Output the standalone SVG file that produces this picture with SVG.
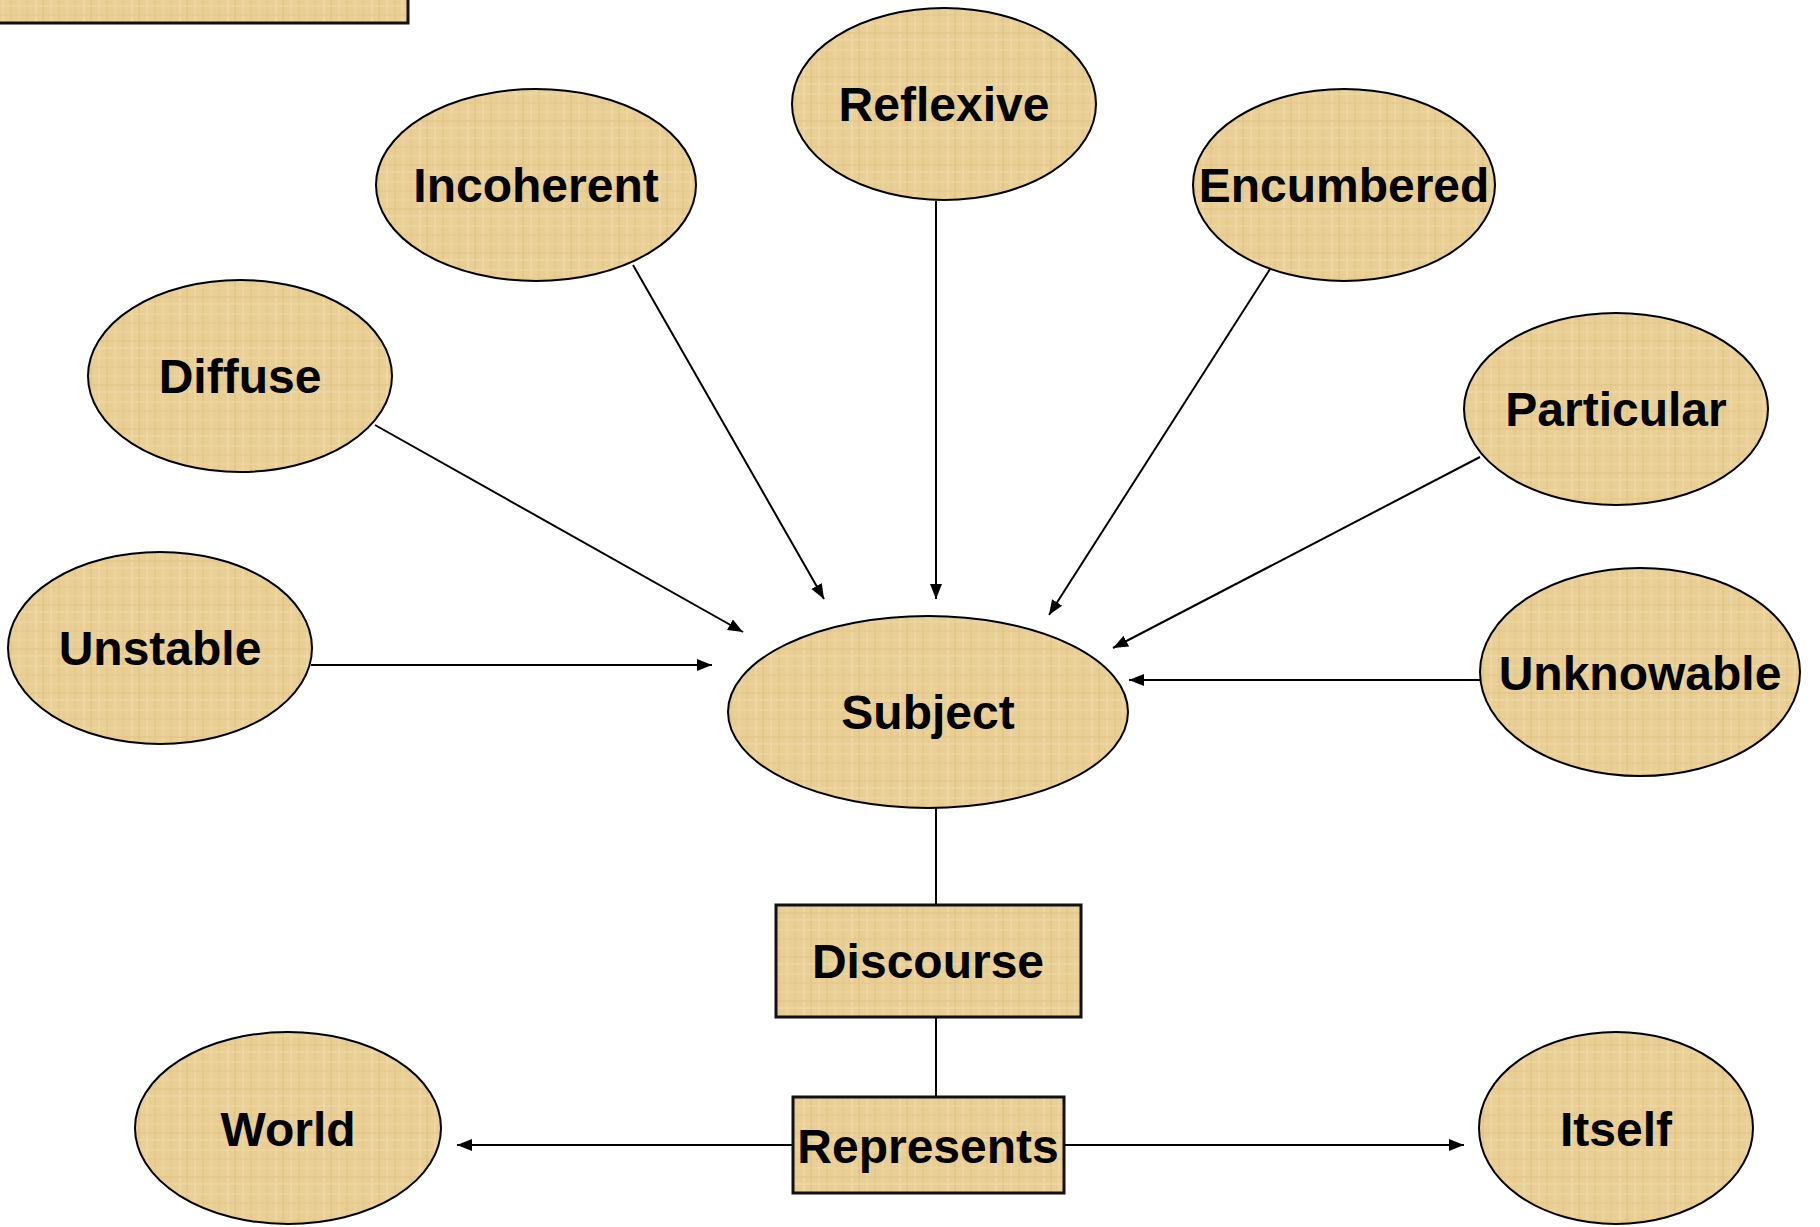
<svg xmlns="http://www.w3.org/2000/svg" width="1820" height="1227" viewBox="0 0 1820 1227">
<defs>
<pattern id="papyrus" width="48" height="44" patternUnits="userSpaceOnUse">
<rect width="48" height="44" fill="#E9CF95"/>
<g stroke-width="1.2" opacity="0.55">
<line x1="3" y1="0" x2="3" y2="44" stroke="#F5E4B8"/>
<line x1="11" y1="0" x2="11" y2="44" stroke="#D9BA78"/>
<line x1="19" y1="0" x2="19" y2="44" stroke="#F3DFAE"/>
<line x1="27" y1="0" x2="27" y2="44" stroke="#DDBF7E"/>
<line x1="36" y1="0" x2="36" y2="44" stroke="#F7E8C2"/>
<line x1="43" y1="0" x2="43" y2="44" stroke="#D6B673"/>
<line x1="0" y1="6" x2="48" y2="6" stroke="#F4E2B4"/>
<line x1="0" y1="15" x2="48" y2="15" stroke="#DCBD7C"/>
<line x1="0" y1="24" x2="48" y2="24" stroke="#F2DEAC"/>
<line x1="0" y1="33" x2="48" y2="33" stroke="#D8B974"/>
<line x1="0" y1="40" x2="48" y2="40" stroke="#F6E6BE"/>
</g>
</pattern>
<marker id="arrow" markerUnits="userSpaceOnUse" markerWidth="16" markerHeight="14" refX="15" refY="6" orient="auto">
<path d="M0,0 L15,6 L0,12 Z" fill="#000"/>
</marker>
</defs>
<style>
.node{fill:url(#papyrus);stroke:#000;stroke-width:2}
.box{fill:url(#papyrus);stroke:#111;stroke-width:3}
.lbl{font-family:"Liberation Sans",Arial,sans-serif;font-weight:bold;font-size:48px;fill:#000;text-anchor:middle}
.conn{stroke:#000;stroke-width:2;fill:none}
.arr{marker-end:url(#arrow)}
</style>
<rect width="1820" height="1227" fill="#fff"/>
<g id="corner-box"><rect class="box" x="-10" y="-10" width="418" height="33"/></g>
<g id="connectors">
<line class="conn arr" x1="633" y1="265" x2="824" y2="599"/>
<line class="conn arr" x1="936" y1="201" x2="936" y2="599"/>
<line class="conn arr" x1="1272" y1="266" x2="1049" y2="615"/>
<line class="conn arr" x1="375" y1="425" x2="743" y2="632"/>
<line class="conn arr" x1="1480" y1="457" x2="1113" y2="648"/>
<line class="conn arr" x1="311" y1="665" x2="712" y2="665"/>
<line class="conn arr" x1="1482" y1="680" x2="1129" y2="680"/>
<line class="conn" x1="936" y1="808" x2="936" y2="905"/>
<line class="conn" x1="936" y1="1017" x2="936" y2="1097"/>
<line class="conn arr" x1="793" y1="1145" x2="457" y2="1145"/>
<line class="conn arr" x1="1064" y1="1145" x2="1464" y2="1145"/>
</g>
<g id="reflexive"><ellipse class="node" cx="944" cy="104" rx="152" ry="96"/><text class="lbl" x="944" y="121">Reflexive</text></g>
<g id="incoherent"><ellipse class="node" cx="536" cy="185" rx="160" ry="96"/><text class="lbl" x="536" y="202">Incoherent</text></g>
<g id="encumbered"><ellipse class="node" cx="1344" cy="185" rx="151" ry="96"/><text class="lbl" x="1344" y="202">Encumbered</text></g>
<g id="diffuse"><ellipse class="node" cx="240" cy="376" rx="152" ry="96"/><text class="lbl" x="240" y="393">Diffuse</text></g>
<g id="particular"><ellipse class="node" cx="1616" cy="409" rx="152" ry="96"/><text class="lbl" x="1616" y="426">Particular</text></g>
<g id="unstable"><ellipse class="node" cx="160" cy="648" rx="152" ry="96"/><text class="lbl" x="160" y="665">Unstable</text></g>
<g id="subject"><ellipse class="node" cx="928" cy="712" rx="200" ry="96"/><text class="lbl" x="928" y="729">Subject</text></g>
<g id="unknowable"><ellipse class="node" cx="1640" cy="672" rx="160" ry="104"/><text class="lbl" x="1640" y="690">Unknowable</text></g>
<g id="discourse"><rect class="box" x="776" y="905" width="305" height="112"/><text class="lbl" x="928" y="978">Discourse</text></g>
<g id="represents"><rect class="box" x="793" y="1097" width="271" height="96"/><text class="lbl" x="928" y="1163">Represents</text></g>
<g id="world"><ellipse class="node" cx="288" cy="1128" rx="153" ry="96"/><text class="lbl" x="288" y="1146">World</text></g>
<g id="itself"><ellipse class="node" cx="1616" cy="1128" rx="137" ry="96"/><text class="lbl" x="1616" y="1146">Itself</text></g>
</svg>
